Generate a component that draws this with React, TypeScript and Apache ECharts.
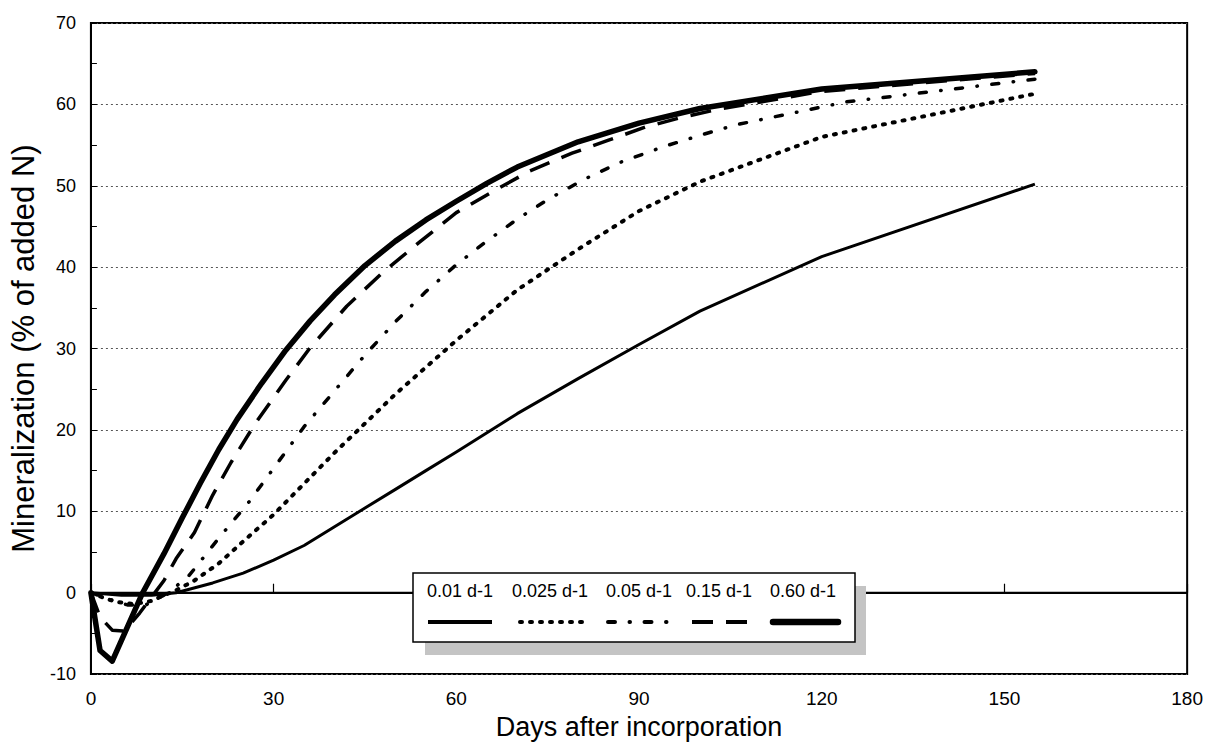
import React, { useEffect, useRef } from "react";
import * as echarts from "echarts";

// ---- data ----
const xTicks = [0, 30, 60, 90, 120, 150, 180];
const yTicks = [-10, 0, 10, 20, 30, 40, 50, 60, 70];

const legendNames = ["0.01 d-1", "0.025 d-1", "0.05 d-1", "0.15 d-1", "0.60 d-1"];

const days001 = [0, 5, 10, 14, 20, 25, 30, 35, 40, 45, 50, 55, 60, 70, 80, 90, 100, 120, 155];
const vals001 = [0, -0.3, -0.3, 0, 1.2, 2.4, 4.0, 5.8, 8.1, 10.4, 12.7, 15.0, 17.3, 22.0, 26.3, 30.5, 34.6, 41.3, 50.2];

const days0025 = [0, 2, 4, 7, 10, 12, 14, 17, 21, 25, 30, 35, 40, 45, 50, 55, 60, 65, 70, 80, 90, 100, 120, 155];
const vals0025 = [0, -0.6, -1.1, -1.4, -1.0, -0.3, 0.3, 1.5, 3.6, 6.3, 9.6, 13.4, 17.2, 20.8, 24.4, 27.7, 31.0, 34.1, 37.2, 42.2, 46.9, 50.5, 56.0, 61.3];

const days005 = [0, 3, 6, 9, 12, 14, 16, 21, 26, 30.5, 35, 40, 45, 50, 55, 60, 65, 70, 75, 81, 87, 94, 100, 106, 124, 155];
const vals005 = [0, -0.8, -1.5, -1.5, -0.3, 0.8, 2.0, 6.7, 11.2, 15.8, 20.4, 24.8, 29.2, 33.3, 37.0, 40.3, 43.2, 45.9, 48.3, 50.8, 52.9, 54.8, 56.2, 57.5, 60.3, 63.1];

const days015 = [0, 1.5, 3.5, 5.5, 8, 10, 12, 14, 17, 20, 23, 27, 32, 36, 42, 48, 54, 60, 66, 72, 79, 85, 91, 97, 103, 120, 155];
const vals015 = [0, -3.0, -4.6, -4.7, -2.5, -0.5, 1.5, 4.2, 7.4, 12.0, 16.0, 20.8, 26.1, 30.1, 35.2, 39.4, 43.1, 46.7, 49.3, 51.8, 54.0, 55.6, 57.2, 58.4, 59.4, 61.6, 63.8];

const days060 = [0, 1.5, 3.5, 8.5, 12, 15, 18, 21, 24, 28, 32, 36, 40, 45, 50, 55, 60, 65, 70, 80, 90, 100, 120, 155];
const vals060 = [0, -7.1, -8.4, 0, 4.8, 9.2, 13.5, 17.6, 21.3, 25.7, 29.8, 33.4, 36.6, 40.2, 43.2, 45.8, 48.1, 50.3, 52.3, 55.4, 57.7, 59.5, 61.9, 64.0];

const zip = (d: number[], v: number[]) => d.map((x, i) => [x, v[i]]);

const styles = [
  { width: 3, type: "solid" as any, cap: "butt" },
  { width: 4, type: [2, 8] as any, cap: "round" },
  { width: 3.5, type: [7, 14.5, 0.5, 14.5] as any, cap: "round" },
  { width: 3.5, type: [21, 13] as any, cap: "butt" },
  { width: 5.5, type: "solid" as any, cap: "round" },
];

const seriesData = [
  zip(days001, vals001),
  zip(days0025, vals0025),
  zip(days005, vals005),
  zip(days015, vals015),
  zip(days060, vals060),
];

export default function App() {
  const ref = useRef<HTMLDivElement>(null);
  useEffect(() => {
    if (!ref.current) return;
    const chart = echarts.init(ref.current, null, { renderer: "svg" });

    const series: any[] = seriesData.map((d, i) => ({
      name: legendNames[i],
      type: "line",
      data: d,
      showSymbol: false,
      symbol: "none",
      smooth: false,
      z: 3 + i,
      lineStyle: {
        color: "#000",
        width: styles[i].width,
        type: styles[i].type,
        cap: styles[i].cap,
        join: "round",
      },
      ...(i === 0
        ? {
            markLine: {
              silent: true,
              symbol: "none",
              label: { show: false },
              lineStyle: { color: "#000", width: 1.3, type: "solid" },
              data: [{ yAxis: 0 }],
            },
          }
        : {}),
    }));

    // custom legend box
    const textX = [460, 550, 639, 719, 803];
    const lineX = [
      [428, 492],
      [520, 582],
      [608, 672],
      [692, 750],
      [773, 838],
    ];
    const legendChildren: any[] = [
      {
        type: "rect",
        shape: { x: 425, y: 586, width: 441, height: 69 },
        style: { fill: "#c4c4c4" },
        z: 100,
      },
      {
        type: "rect",
        shape: { x: 413, y: 573, width: 442, height: 69 },
        style: { fill: "#fff", stroke: "#000", lineWidth: 1.5 },
        z: 101,
      },
    ];
    legendNames.forEach((n, i) => {
      legendChildren.push({
        type: "text",
        x: textX[i],
        y: 591,
        z: 102,
        style: {
          text: n,
          fill: "#000",
          font: "18px 'Liberation Sans', Arial, sans-serif",
          textAlign: "center",
          textVerticalAlign: "middle",
        },
      });
      legendChildren.push({
        type: "line",
        z: 102,
        shape: { x1: lineX[i][0], y1: 622, x2: lineX[i][1], y2: 622 },
        style: {
          stroke: "#000",
          lineWidth: i === 4 ? 6.5 : 4,
          lineDash: Array.isArray(styles[i].type) ? styles[i].type : null,
          lineCap: styles[i].cap,
        },
      });
    });

    chart.setOption({
      animation: false,
      backgroundColor: "#fff",
      grid: {
        left: 90,
        right: 16,
        top: 23,
        bottom: 67,
        show: true,
        borderColor: "#000",
        borderWidth: 2,
        backgroundColor: "transparent",
      },
      xAxis: {
        type: "value",
        min: xTicks[0],
        max: xTicks[xTicks.length - 1],
        interval: 30,
        axisLine: { show: true, lineStyle: { color: "#000", width: 2 } },
        axisTick: { show: true, inside: true, length: 9, lineStyle: { color: "#000", width: 1.2 } },
        axisLabel: {
          color: "#000",
          fontSize: 19,
          fontFamily: "'Liberation Sans Narrow', 'Liberation Sans', Arial, sans-serif",
          margin: 15,
        },
        splitLine: { show: false },
        name: "Days after incorporation",
        nameLocation: "middle",
        nameGap: 35,
        nameTextStyle: {
          color: "#000",
          fontSize: 27,
          fontFamily: "'Liberation Sans Narrow', 'Liberation Sans', Arial, sans-serif",
        },
      },
      yAxis: {
        type: "value",
        min: yTicks[0],
        max: yTicks[yTicks.length - 1],
        interval: 10,
        axisLine: { show: true, lineStyle: { color: "#000", width: 2 } },
        axisTick: { show: true, inside: true, length: 6, lineStyle: { color: "#000", width: 1 } },
        minorTick: { show: true, splitNumber: 2, length: 6, lineStyle: { color: "#000", width: 1 } },
        axisLabel: {
          color: "#000",
          fontSize: 18,
          fontFamily: "'Liberation Sans', Arial, sans-serif",
          margin: 15,
        },
        splitLine: { show: true, lineStyle: { color: "#555", width: 1, type: [2, 3] } },
        name: "Mineralization (% of added N)",
        nameLocation: "middle",
        nameGap: 50,
        nameTextStyle: {
          color: "#000",
          fontSize: 31,
          fontFamily: "'Liberation Sans', Arial, sans-serif",
        },
      },
      series,
      graphic: [{ type: "group", children: legendChildren }],
    });

    return () => chart.dispose();
  }, []);

  return <div ref={ref} style={{ width: 1206, height: 745, position: "absolute", left: 0, top: 0 }} />;
}
